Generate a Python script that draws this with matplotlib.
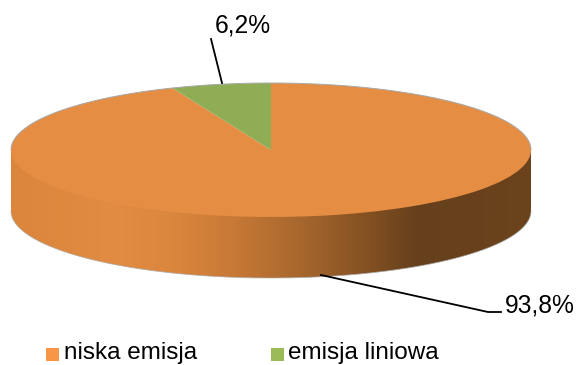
import numpy as np
import matplotlib
matplotlib.use("Agg")
import matplotlib.pyplot as plt
from matplotlib.colors import LinearSegmentedColormap
from matplotlib.patches import PathPatch, Rectangle
from matplotlib.path import Path

plt.rcParams["font.family"] = ["Liberation Sans", "DejaVu Sans"]

categories = ["niska emisja", "emisja liniowa"]
shares = [93.8, 6.2]
share_labels = ["93,8%", "6,2%"]
top_colors = ["#E58D42", "#8FAD55"]
legend_colors = ["#F79646", "#9BBB59"]

W, H = 576, 365
CX, CY, RX, RY, DEPTH = 271, 150, 260, 67, 61

fig = plt.figure(figsize=(W / 100, H / 100), dpi=100)
ax = fig.add_axes([0, 0, 1, 1])


def px(x, y):
    """Pixel position to data units of the unit-radius disc."""
    return (x - CX) / RX, (CY - y) / RY


# Rim of the disc, shaded from left to right; its upper part runs on under the top face
depth = DEPTH / RY
theta = np.linspace(np.pi, 2 * np.pi, 300)
rim_x = np.cos(theta)
rim_y = np.sin(theta)
verts = np.vstack([
    np.column_stack([rim_x, rim_y - depth]),
    [[1, 0], [-1, 0]],
])
rim_path = Path(np.vstack([verts, verts[:1]]), closed=True)
rim_patch = PathPatch(rim_path, facecolor="none", edgecolor="none", zorder=2)
ax.add_patch(rim_patch)
shade = LinearSegmentedColormap.from_list("rim", [
    (0.00, "#DB863C"), (0.20, "#E28B42"), (0.30, "#DC873E"), (0.42, "#C97A36"),
    (0.55, "#A9682E"), (0.68, "#855223"), (0.78, "#66401C"), (1.00, "#6B431C"),
])
img = ax.imshow(np.linspace(0, 1, 512)[None, :], cmap=shade, aspect="auto",
                extent=(-1, 1, -1 - depth, 0), zorder=1)
img.set_clip_path(rim_patch)
ax.plot(rim_x, rim_y - depth, color="#A8A8A8", lw=0.6, alpha=0.8, zorder=2)

# Top face: the first share runs clockwise round from the wedge at twelve o'clock
wedges, _ = ax.pie(shares, colors=top_colors, startangle=90, counterclock=False,
                   radius=1, center=(0, 0), wedgeprops={"linewidth": 0, "zorder": 3})
wedges[0].set_zorder(3)
wedges[1].set_zorder(4)
back_t = np.linspace(0, np.pi, 300)
ax.plot(np.cos(back_t), np.sin(back_t), color="#A8A8A8", lw=0.7, zorder=4.5)

ax.set_aspect("auto")
ax.set_xlim(px(0, 0)[0], px(W, 0)[0])
ax.set_ylim(px(0, H)[1], px(0, 0)[1])
ax.axis("off")

# Leader lines and value labels
lead_big = np.array([px(321, 275), px(488, 312), px(501, 312)])
lead_small = np.array([px(211, 39), px(222, 83)])
ax.plot(*lead_big.T, color="black", lw=1.3, zorder=5)
ax.plot(*lead_small.T, color="black", lw=1.3, zorder=5)
ax.text(*px(505, 312), share_labels[0], fontsize=17.7, va="baseline", ha="left", color="black")
ax.text(*px(215, 33), share_labels[1], fontsize=17.7, va="baseline", ha="left", color="black")

# Legend along the bottom edge
for x_sq, x_txt, name, col in zip((46, 271), (64, 288), categories, legend_colors):
    x0, y0 = px(x_sq, 361)
    x1, y1 = px(x_sq + 13, 348)
    ax.add_patch(Rectangle((x0, y0), x1 - x0, y1 - y0, facecolor=col, edgecolor="none", zorder=5))
    ax.text(*px(x_txt, 359.5), name, fontsize=17.5, va="baseline", ha="left", color="black")

fig.savefig("out.png", dpi=100)
